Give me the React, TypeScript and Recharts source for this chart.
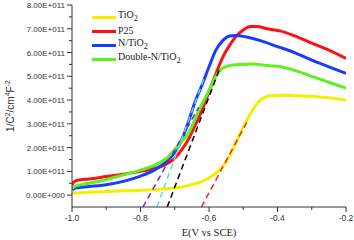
import { LineChart, Line, XAxis, YAxis } from "recharts"

// potentials (V vs SCE) and 1/C^2 values in units of 1E+011
const tio2V = [-1.0, -0.95, -0.9, -0.85, -0.8, -0.75, -0.7, -0.66, -0.63, -0.6, -0.58, -0.56, -0.54, -0.52, -0.5, -0.48, -0.46, -0.44, -0.42, -0.38, -0.34, -0.3, -0.25, -0.2]
const tio2C = [0.08, 0.12, 0.15, 0.18, 0.2, 0.24, 0.3, 0.4, 0.52, 0.72, 0.92, 1.2, 1.65, 2.25, 2.85, 3.4, 3.85, 4.1, 4.18, 4.2, 4.18, 4.15, 4.1, 4.0]

const p25V = [-1.0, -0.995, -0.985, -0.95, -0.9, -0.85, -0.8, -0.76, -0.73, -0.7, -0.68, -0.66, -0.64, -0.62, -0.6, -0.58, -0.56, -0.54, -0.52, -0.5, -0.48, -0.46, -0.43, -0.39, -0.35, -0.3, -0.25, -0.2]
const p25C = [0.42, 0.55, 0.62, 0.68, 0.78, 0.88, 1.0, 1.12, 1.26, 1.55, 1.9, 2.35, 2.95, 3.6, 4.35, 5.1, 5.8, 6.3, 6.7, 6.95, 7.1, 7.1, 7.0, 6.9, 6.7, 6.4, 6.1, 5.75]

const nTio2V = [-1.0, -0.99, -0.95, -0.9, -0.85, -0.8, -0.76, -0.73, -0.7, -0.68, -0.66, -0.64, -0.62, -0.6, -0.58, -0.56, -0.54, -0.52, -0.49, -0.45, -0.4, -0.35, -0.3, -0.25, -0.2]
const nTio2C = [0.22, 0.3, 0.36, 0.44, 0.58, 0.8, 1.05, 1.35, 1.8, 2.3, 3.1, 3.95, 4.65, 5.4, 6.1, 6.5, 6.7, 6.72, 6.65, 6.5, 6.25, 6.0, 5.68, 5.4, 5.12]

const doubleNV = [-1.0, -0.99, -0.95, -0.9, -0.85, -0.8, -0.76, -0.72, -0.69, -0.66, -0.63, -0.6, -0.58, -0.56, -0.53, -0.5, -0.47, -0.43, -0.39, -0.35, -0.3, -0.25, -0.2]
const doubleNC = [0.28, 0.38, 0.5, 0.65, 0.85, 1.05, 1.25, 1.6, 2.1, 2.6, 3.55, 4.4, 5.0, 5.35, 5.48, 5.5, 5.52, 5.45, 5.4, 5.25, 5.0, 4.75, 4.5]

// tangent (Mott-Schottky fit) lines, two end points each
const fitPurpleV = [-0.793, -0.63]
const fitPurpleC = [-0.5, 3.7]
const fitCyanV = [-0.752, -0.615]
const fitCyanC = [-0.5, 4.9]
const fitBlackV = [-0.722, -0.568]
const fitBlackC = [-0.5, 5.35]
const fitRedV = [-0.622, -0.485]
const fitRedC = [-0.5, 3.2]

const xTicks = [-1.0, -0.9, -0.8, -0.7, -0.6, -0.5, -0.4, -0.3, -0.2]
const yTicks = [0, 0.5, 1, 1.5, 2, 2.5, 3, 3.5, 4, 4.5, 5, 5.5, 6, 6.5, 7, 7.5, 8]

const pairs = (v: number[], c: number[]) => v.map((x, i) => ({ v: x, c: c[i] }))

const tickFont = "'Liberation Sans', Arial, sans-serif"
const serif = "'Liberation Serif', 'Times New Roman', serif"
const axisColor = "#333"

function YTick({ x, y, payload }: any) {
  const val = payload.value as number
  const major = Math.abs(val - Math.round(val)) < 1e-6
  return (
    <g>
      <line x1={x - (major ? 5 : 3)} x2={x} y1={y} y2={y} stroke={axisColor} />
      {major && (
        <text x={x - 7} y={y + 3} textAnchor="end" fontSize={8} fontFamily={tickFont} fill={axisColor}>
          {val === 0 ? "0.00E+000" : `${val.toFixed(2)}E+011`}
        </text>
      )}
    </g>
  )
}

function XTick({ x, y, payload }: any) {
  const val = payload.value as number
  const major = Math.round(val * 10) % 2 === 0
  return (
    <g>
      <line x1={x} x2={x} y1={y} y2={y + (major ? 5 : 3)} stroke={axisColor} />
      {major && (
        <text x={x} y={y + 14} textAnchor="middle" fontSize={8.5} fontFamily={tickFont} fill={axisColor}>
          {val.toFixed(1)}
        </text>
      )}
    </g>
  )
}

function YTitle() {
  return (
    <text transform="translate(14,106) rotate(-90)" textAnchor="middle" fontSize={10} fontFamily={tickFont} fill={axisColor}>
      1/C<tspan dy={-4} fontSize={7}>2</tspan>
      <tspan dy={4}>/cm</tspan>
      <tspan dy={-4} fontSize={7}>4</tspan>
      <tspan dy={4}>F</tspan>
      <tspan dy={-4} fontSize={7}>-2</tspan>
    </text>
  )
}

function XTitle() {
  return (
    <text x={209} y={236} textAnchor="middle" fontSize={10.5} fontFamily={serif} fill="#222">
      E(V vs SCE)
    </text>
  )
}

const legendItems = [
  { color: "#f0f000", label: <>TiO<sub>2</sub></> },
  { color: "#ff1010", label: <>P25</> },
  { color: "#1a3cff", label: <>N/TiO<sub>2</sub></> },
  { color: "#5ef020", label: <>Double-N/TiO<sub>2</sub></> },
]

function LegendBox() {
  return (
    <div style={{ position: "absolute", left: 92, top: 10, fontFamily: serif, fontSize: 10, color: "#222" }}>
      {legendItems.map((it, i) => (
        <div key={i} style={{ display: "flex", alignItems: "center", height: 14 }}>
          <div style={{ width: 24, height: 3, background: it.color, marginRight: 2 }} />
          <span style={{ lineHeight: "10px", whiteSpace: "nowrap" }}>{it.label}</span>
        </div>
      ))}
    </div>
  )
}

export default function App() {
  return (
    <div style={{ position: "absolute", left: 0, top: 0, width: 354, height: 240, background: "#fff" }}>
      <LineChart width={354} height={240} margin={{ top: 5, right: 8, left: 0, bottom: 0 }}>
        <XAxis
          dataKey="v"
          type="number"
          domain={[-1, -0.2]}
          ticks={xTicks}
          interval={0}
          allowDataOverflow
          height={33}
          stroke={axisColor}
          tickLine={false}
          tickSize={0}
          tickMargin={0}
          tick={<XTick />}
          label={<XTitle />}
        />
        <YAxis
          dataKey="c"
          type="number"
          domain={[-0.5, 8]}
          ticks={yTicks}
          interval={0}
          allowDataOverflow
          width={72}
          stroke={axisColor}
          tickLine={false}
          tickSize={0}
          tickMargin={0}
          tick={<YTick />}
          label={<YTitle />}
        />
        <Line data={pairs(tio2V, tio2C)} dataKey="c" type="monotone" stroke="#f0f000" strokeWidth={3} dot={false} isAnimationActive={false} />
        <Line data={pairs(p25V, p25C)} dataKey="c" type="monotone" stroke="#ff1010" strokeWidth={3} dot={false} isAnimationActive={false} />
        <Line data={pairs(nTio2V, nTio2C)} dataKey="c" type="monotone" stroke="#1a3cff" strokeWidth={3} dot={false} isAnimationActive={false} />
        <Line data={pairs(doubleNV, doubleNC)} dataKey="c" type="monotone" stroke="#5ef020" strokeWidth={3} dot={false} isAnimationActive={false} />
        <Line data={pairs(fitPurpleV, fitPurpleC)} dataKey="c" type="linear" stroke="#6a2fd0" strokeWidth={1.5} strokeDasharray="6 4" dot={false} isAnimationActive={false} />
        <Line data={pairs(fitCyanV, fitCyanC)} dataKey="c" type="linear" stroke="#50e0e8" strokeWidth={1.5} strokeDasharray="6 4" dot={false} isAnimationActive={false} />
        <Line data={pairs(fitBlackV, fitBlackC)} dataKey="c" type="linear" stroke="#000" strokeWidth={1.5} strokeDasharray="6 4" dot={false} isAnimationActive={false} />
        <Line data={pairs(fitRedV, fitRedC)} dataKey="c" type="linear" stroke="#ff2020" strokeWidth={1.5} strokeDasharray="6 4" dot={false} isAnimationActive={false} />
      </LineChart>
      <LegendBox />
    </div>
  )
}
